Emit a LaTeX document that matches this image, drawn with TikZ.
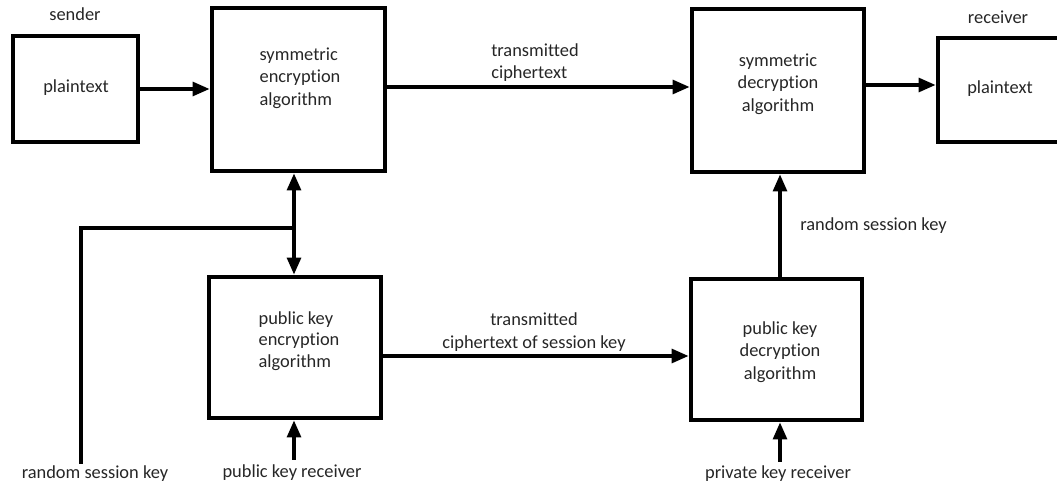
\documentclass[tikz,border=0pt]{standalone}
\usepackage{fontspec}
\setmainfont{Carlito}[Ligatures={NoCommon,NoContextual}]
\usetikzlibrary{arrows.meta}
\begin{document}
\begin{tikzpicture}[x=0.75pt,y=-0.75pt,
  font=\fontsize{13.8}{17}\selectfont,
  blockbox/.style={draw=black,line width=3pt,rectangle,inner sep=0pt},
  txt/.style={inner sep=0pt,align=center,text=black!85},
  flow/.style={line width=3.6pt,-{Triangle[length=13pt,width=10pt]}},
  feed/.style={line width=3.6pt,{Triangle[length=13pt,width=10pt]}-{Triangle[length=13pt,width=10pt]}},
  wire/.style={line width=3pt}]
\useasboundingbox (0,0) rectangle (1057,484);
\clip (0,0) rectangle (1057,484);

% blocks
\node[blockbox,minimum width=93.75pt,minimum height=79.5pt] (src) at (75.5,89) {};
\node[blockbox,minimum width=129.75pt,minimum height=122.25pt] (senc) at (298.5,89.5) {};
\node[blockbox,minimum width=129pt,minimum height=122.25pt] (sdec) at (778,90.5) {};
\node[blockbox,minimum width=91.5pt,minimum height=78pt] (dst) at (999,90) {};
\node[blockbox,minimum width=129pt,minimum height=105.75pt] (penc) at (295,347.5) {};
\node[blockbox,minimum width=128.25pt,minimum height=105.75pt] (pdec) at (776.5,349.5) {};

% block texts
\node[txt] (src-t) at (76,88) {plaintext};
\node[txt,align=left] (senc-t) at (300,78) {symmetric\\encryption\\algorithm};
\node[txt] (sdec-t) at (778,84) {symmetric\\decryption\\algorithm};
\node[txt] (dst-t) at (1000,89) {plaintext};
\node[txt,align=left,font=\fontsize{13.8}{16}\selectfont] (penc-t) at (299,341) {public key\\encryption\\algorithm};
\node[txt] (pdec-t) at (780,352) {public key\\decryption\\algorithm};

% side labels
\node[txt] (sender) at (75,14) {sender};
\node[txt] (receiver) at (998,17) {receiver};

% helper coordinates
\coordinate (kx) at (294,0);
\coordinate (dx) at (780,0);
\coordinate (junc) at (294,228);
\coordinate (rskcorner) at (81,228);
\coordinate (rskend) at (81,464);
\coordinate (pubin) at (294,460);
\coordinate (privin) at (780,462);

% main data path
\draw[flow] (src.east |- 0,89) -- (senc.west |- 0,89);
\draw[flow] (senc.east |- 0,87) -- (sdec.west |- 0,87);
\draw[flow] (sdec.east |- 0,85) -- (dst.west |- 0,85);
\node[txt,align=left] (ct) at (535,62.5) {transmitted\\ciphertext};

% session key distribution
\draw[feed] (senc.south -| kx) -- (penc.north -| kx);
\draw[wire] (junc) -- (rskcorner) -- (rskend);
\node[txt] (rsk1) at (95,474) {random session key};

\draw[flow] (pubin) -- (penc.south -| kx);
\node[txt] (pubkey) at (292,473) {public key receiver};

\draw[flow] (penc.east |- 0,356) -- (pdec.west |- 0,356);
\node[txt] (cts) at (534,332) {transmitted\\ciphertext of session key};

\draw[flow] (pdec.north -| dx) -- (sdec.south -| dx);
\node[txt,anchor=west] (rsk2) at (800,226) {random session key};

\draw[flow] (privin) -- (pdec.south -| dx);
\node[txt] (privkey) at (778,474) {private key receiver};
\end{tikzpicture}
\end{document}
